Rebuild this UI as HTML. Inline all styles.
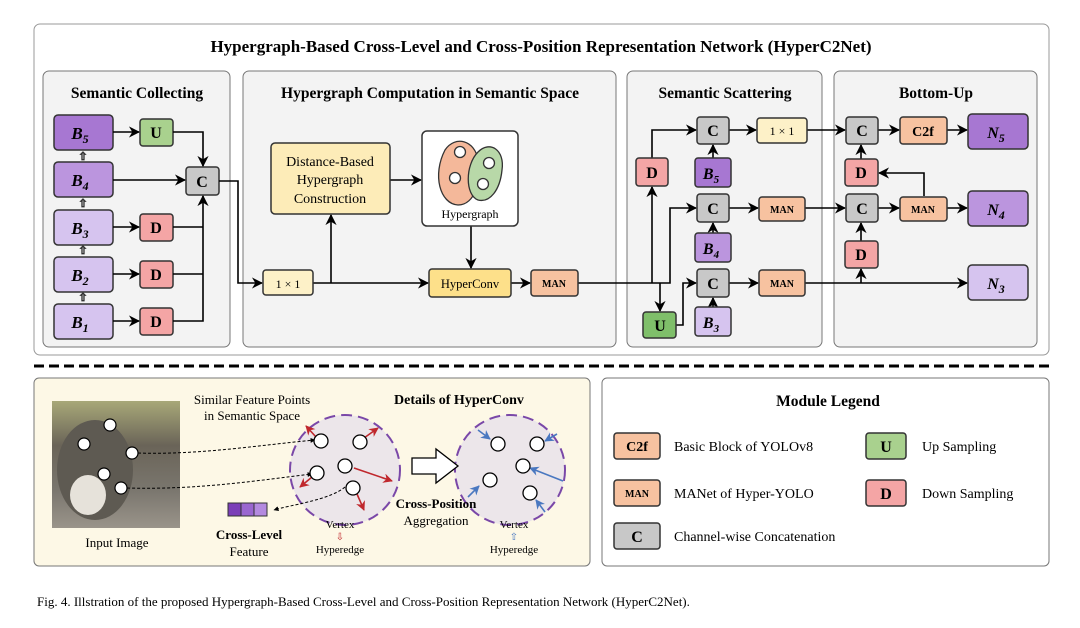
<!DOCTYPE html>
<html><head><meta charset="utf-8"><style>
body{margin:0;background:#fff}
svg{display:block;font-family:"Liberation Serif",serif}
</style></head><body>
<svg width="1080" height="628" viewBox="0 0 1080 628" xmlns="http://www.w3.org/2000/svg">
<defs>
<marker id="a" viewBox="0 0 10 10" refX="9" refY="5" markerWidth="7" markerHeight="7" orient="auto"><path d="M0,0 L10,5 L0,10 L3,5z" fill="#000"/></marker>
<marker id="r" viewBox="0 0 10 10" refX="9" refY="5" markerWidth="6" markerHeight="6" orient="auto"><path d="M0,0 L10,5 L0,10 L3,5z" fill="#c0282d"/></marker>
<marker id="b" viewBox="0 0 10 10" refX="9" refY="5" markerWidth="6" markerHeight="6" orient="auto"><path d="M0,0 L10,5 L0,10 L3,5z" fill="#4a78c0"/></marker>
<marker id="s" viewBox="0 0 10 10" refX="9" refY="5" markerWidth="5" markerHeight="5" orient="auto"><path d="M0,0 L10,5 L0,10z" fill="#000"/></marker>
<linearGradient id="cat" x1="0" y1="0" x2="0" y2="1"><stop offset="0" stop-color="#a8a878"/><stop offset="0.35" stop-color="#6a6458"/><stop offset="0.7" stop-color="#7a766e"/><stop offset="1" stop-color="#9a948a"/></linearGradient>
</defs>
<rect x="34" y="24" width="1015" height="331" rx="6" fill="#fff" stroke="#999"/>
<text x="541" y="52" font-size="17" font-weight="bold" text-anchor="middle">Hypergraph-Based Cross-Level and Cross-Position Representation Network (HyperC2Net)</text>
<g fill="#f3f3f3" stroke="#777">
<rect x="43" y="71" width="187" height="276" rx="6"/>
<rect x="243" y="71" width="373" height="276" rx="6"/>
<rect x="627" y="71" width="195" height="276" rx="6"/>
<rect x="834" y="71" width="203" height="276" rx="6"/>
</g>
<g font-size="15.5" font-weight="bold" text-anchor="middle">
<text x="137" y="98">Semantic Collecting</text>
<text x="430" y="98">Hypergraph Computation in Semantic Space</text>
<text x="725" y="98">Semantic Scattering</text>
<text x="936" y="98">Bottom-Up</text>
</g>
<g stroke="#333" stroke-width="1.5">
<rect x="54" y="115" width="59" height="35" rx="4" fill="#a777d2"/>
<rect x="54" y="162" width="59" height="35" rx="4" fill="#bb95de"/>
<rect x="54" y="210" width="59" height="35" rx="4" fill="#d6c4ef"/>
<rect x="54" y="257" width="59" height="35" rx="4" fill="#d6c4ef"/>
<rect x="54" y="304" width="59" height="35" rx="4" fill="#d6c4ef"/>
<rect x="140" y="119" width="33" height="27" rx="3" fill="#a9d18e"/>
<rect x="140" y="214" width="33" height="27" rx="3" fill="#f4a5a5"/>
<rect x="140" y="261" width="33" height="27" rx="3" fill="#f4a5a5"/>
<rect x="140" y="308" width="33" height="27" rx="3" fill="#f4a5a5"/>
<rect x="186" y="167" width="33" height="28" rx="3" fill="#c8c8c8"/>
</g>
<g font-size="17" font-weight="bold" font-style="italic" text-anchor="middle">
<text x="80" y="139">B<tspan font-size="12" dy="4">5</tspan></text>
<text x="80" y="186">B<tspan font-size="12" dy="4">4</tspan></text>
<text x="80" y="234">B<tspan font-size="12" dy="4">3</tspan></text>
<text x="80" y="281">B<tspan font-size="12" dy="4">2</tspan></text>
<text x="80" y="328">B<tspan font-size="12" dy="4">1</tspan></text>
</g>
<g font-size="16" font-weight="bold" text-anchor="middle">
<text x="156" y="138">U</text><text x="156" y="233">D</text><text x="156" y="280">D</text><text x="156" y="327">D</text><text x="202" y="187">C</text>
</g>
<g font-size="11" text-anchor="middle" fill="#fff" stroke="#333" stroke-width="0.8">
<text x="83" y="160">⇧</text><text x="83" y="207">⇧</text><text x="83" y="254">⇧</text><text x="83" y="301">⇧</text>
</g>
<g stroke="#000" stroke-width="1.6" fill="none">
<path d="M113 132H139" marker-end="url(#a)"/>
<path d="M113 227H139" marker-end="url(#a)"/>
<path d="M113 274H139" marker-end="url(#a)"/>
<path d="M113 321H139" marker-end="url(#a)"/>
<path d="M113 180H185" marker-end="url(#a)"/>
<path d="M173 132H203V166" marker-end="url(#a)"/>
<path d="M173 227H203M173 274H203M173 321H203V196" marker-end="url(#a)"/>
<path d="M219 181H238V283H262" marker-end="url(#a)"/>
<path d="M313 283H428" marker-end="url(#a)"/>
<path d="M331 283V215" marker-end="url(#a)"/>
<path d="M390 180H421" marker-end="url(#a)"/>
<path d="M471 226V268" marker-end="url(#a)"/>
<path d="M511 283H530" marker-end="url(#a)"/>
<path d="M578 283H670V208H696" marker-end="url(#a)"/>
<path d="M652 283V187" marker-end="url(#a)"/>
<path d="M652 158V130H696" marker-end="url(#a)"/>
<path d="M660 283V311" marker-end="url(#a)"/>
<path d="M676 325H683V283H696" marker-end="url(#a)"/>
<path d="M713 158V145" marker-end="url(#a)"/>
<path d="M713 233V223" marker-end="url(#a)"/>
<path d="M713 307V298" marker-end="url(#a)"/>
<path d="M729 130H756" marker-end="url(#a)"/>
<path d="M729 208H758" marker-end="url(#a)"/>
<path d="M729 283H758" marker-end="url(#a)"/>
<path d="M807 130H845" marker-end="url(#a)"/>
<path d="M805 208H845" marker-end="url(#a)"/>
<path d="M805 283H967" marker-end="url(#a)"/>
<path d="M861 283V269" marker-end="url(#a)"/>
<path d="M861 241V223" marker-end="url(#a)"/>
<path d="M861 159V145" marker-end="url(#a)"/>
<path d="M878 130H899" marker-end="url(#a)"/>
<path d="M947 130H967" marker-end="url(#a)"/>
<path d="M878 208H899" marker-end="url(#a)"/>
<path d="M947 208H967" marker-end="url(#a)"/>
<path d="M924 196V173H879" marker-end="url(#a)"/>
</g>
<g stroke="#333" stroke-width="1.5">
<rect x="271" y="143" width="119" height="71" rx="4" fill="#fdecb8"/>
<rect x="422" y="131" width="96" height="95" rx="5" fill="#fff"/>
<rect x="263" y="270" width="50" height="25" rx="3" fill="#fdf1c8"/>
<rect x="429" y="269" width="82" height="28" rx="3" fill="#fde08a"/>
<rect x="531" y="270" width="47" height="26" rx="3" fill="#f7c2a0"/>
<rect x="636" y="158" width="32" height="28" rx="3" fill="#f4a5a5"/>
<rect x="697" y="117" width="32" height="27" rx="3" fill="#c8c8c8"/>
<rect x="695" y="158" width="36" height="29" rx="3" fill="#a777d2"/>
<rect x="757" y="118" width="50" height="25" rx="3" fill="#fdf1c8"/>
<rect x="697" y="194" width="32" height="28" rx="3" fill="#c8c8c8"/>
<rect x="759" y="197" width="46" height="24" rx="3" fill="#f7c2a0"/>
<rect x="695" y="233" width="36" height="29" rx="3" fill="#bb95de"/>
<rect x="697" y="269" width="32" height="28" rx="3" fill="#c8c8c8"/>
<rect x="759" y="270" width="46" height="26" rx="3" fill="#f7c2a0"/>
<rect x="695" y="307" width="36" height="29" rx="3" fill="#d6c4ef"/>
<rect x="643" y="312" width="33" height="26" rx="3" fill="#7fbf6a"/>
<rect x="846" y="117" width="32" height="27" rx="3" fill="#c8c8c8"/>
<rect x="900" y="117" width="47" height="27" rx="3" fill="#f7c2a0"/>
<rect x="968" y="114" width="60" height="35" rx="4" fill="#a777d2"/>
<rect x="845" y="159" width="33" height="27" rx="3" fill="#f4a5a5"/>
<rect x="846" y="194" width="32" height="28" rx="3" fill="#c8c8c8"/>
<rect x="900" y="197" width="47" height="24" rx="3" fill="#f7c2a0"/>
<rect x="968" y="191" width="60" height="35" rx="4" fill="#bb95de"/>
<rect x="845" y="241" width="33" height="27" rx="3" fill="#f4a5a5"/>
<rect x="968" y="265" width="60" height="35" rx="4" fill="#d6c4ef"/>
</g>
<g font-size="14" text-anchor="middle">
<text x="330" y="166">Distance-Based</text><text x="330" y="184">Hypergraph</text><text x="330" y="203">Construction</text>
<text x="470" y="218" font-size="12">Hypergraph</text>
<text x="288" y="288" font-size="12">1 × 1</text>
<text x="470" y="288" font-size="12.5">HyperConv</text>
<text x="782" y="135" font-size="12">1 × 1</text>
</g>
<g font-size="10" font-weight="bold" text-anchor="middle">
<text x="554" y="287">MAN</text><text x="782" y="213">MAN</text><text x="782" y="287">MAN</text><text x="923" y="213">MAN</text>
</g>
<g font-size="16" font-weight="bold" text-anchor="middle">
<text x="652" y="178">D</text><text x="713" y="136">C</text><text x="713" y="214">C</text><text x="713" y="289">C</text><text x="660" y="331">U</text>
<text x="862" y="136">C</text><text x="862" y="214">C</text><text x="861" y="178">D</text><text x="861" y="260">D</text>
<text x="923" y="136" font-size="14">C2f</text>
</g>
<g font-size="16" font-weight="bold" font-style="italic" text-anchor="middle">
<text x="711" y="179">B<tspan font-size="11" dy="4">5</tspan></text>
<text x="711" y="254">B<tspan font-size="11" dy="4">4</tspan></text>
<text x="711" y="328">B<tspan font-size="11" dy="4">3</tspan></text>
<text x="996" y="138">N<tspan font-size="12" dy="4">5</tspan></text>
<text x="996" y="215">N<tspan font-size="12" dy="4">4</tspan></text>
<text x="996" y="289">N<tspan font-size="12" dy="4">3</tspan></text>
</g>
<!-- hypergraph icon -->
<g stroke="#333" stroke-width="1.3">
<path d="M445 150 C455 135 475 140 478 160 C482 180 475 205 458 205 C440 204 432 175 445 150Z" fill="#f4b89a"/>
<path d="M478 152 C490 140 505 150 502 170 C500 190 490 203 478 200 C465 195 465 165 478 152Z" fill="#b8d8a8"/>
<circle cx="460" cy="152" r="5.5" fill="#fff"/><circle cx="455" cy="178" r="5.5" fill="#fff"/><circle cx="489" cy="163" r="5.5" fill="#fff"/><circle cx="483" cy="184" r="5.5" fill="#fff"/>
</g>
<path d="M34 366H1049" stroke="#000" stroke-width="3" stroke-dasharray="10 5"/>
<!-- bottom left -->
<rect x="34" y="378" width="556" height="188" rx="5" fill="#fdf8e6" stroke="#777"/>
<rect x="52" y="401" width="128" height="127" fill="url(#cat)"/>
<ellipse cx="95" cy="470" rx="38" ry="50" fill="#5e5a52"/>
<ellipse cx="88" cy="495" rx="18" ry="20" fill="#e6e2da"/>
<g fill="#fff" stroke="#000" stroke-width="1.2">
<circle cx="110" cy="425" r="6"/><circle cx="84" cy="444" r="6"/><circle cx="132" cy="453" r="6"/><circle cx="104" cy="474" r="6"/><circle cx="121" cy="488" r="6"/>
</g>
<text x="117" y="547" font-size="13" text-anchor="middle">Input Image</text>
<text x="252" y="404" font-size="13" text-anchor="middle">Similar Feature Points</text>
<text x="252" y="420" font-size="13" text-anchor="middle">in Semantic Space</text>
<text x="459" y="404" font-size="14" font-weight="bold" text-anchor="middle">Details of HyperConv</text>
<circle cx="345" cy="470" r="55" fill="#ece6ea" stroke="#7a48a8" stroke-width="2" stroke-dasharray="11 6"/>
<circle cx="510" cy="470" r="55" fill="#ece6ea" stroke="#7a48a8" stroke-width="2" stroke-dasharray="11 6"/>
<g fill="none" stroke="#000" stroke-width="1" stroke-dasharray="3 2">
<path d="M138 453 C200 455 260 445 315 440" marker-end="url(#s)"/>
<path d="M127 488 C200 490 260 480 312 474" marker-end="url(#s)"/>
<path d="M345 487 C330 500 290 505 274 510" marker-end="url(#s)"/>
</g>
<g stroke="#c0282d" stroke-width="1.6" fill="none">
<path d="M316 437L306 426" marker-end="url(#r)"/>
<path d="M364 438L378 428" marker-end="url(#r)"/>
<path d="M354 468L392 481" marker-end="url(#r)"/>
<path d="M312 477L300 487" marker-end="url(#r)"/>
<path d="M357 494L364 510" marker-end="url(#r)"/>
</g>
<g fill="#fff" stroke="#000" stroke-width="1.3">
<circle cx="321" cy="441" r="7"/><circle cx="360" cy="442" r="7"/><circle cx="345" cy="466" r="7"/><circle cx="317" cy="473" r="7"/><circle cx="353" cy="488" r="7"/>
</g>
<g stroke="#4a78c0" stroke-width="1.6" fill="none">
<path d="M478 430L490 439" marker-end="url(#b)"/>
<path d="M557 434L545 441" marker-end="url(#b)"/>
<path d="M563 481L530 468" marker-end="url(#b)"/>
<path d="M468 497L479 486" marker-end="url(#b)"/>
<path d="M545 512L536 500" marker-end="url(#b)"/>
</g>
<g fill="#fff" stroke="#000" stroke-width="1.3">
<circle cx="498" cy="444" r="7"/><circle cx="537" cy="444" r="7"/><circle cx="523" cy="466" r="7"/><circle cx="490" cy="480" r="7"/><circle cx="530" cy="493" r="7"/>
</g>
<path d="M412 458H436V449L458 466L436 483V474H412Z" fill="#fff" stroke="#000" stroke-width="1.3"/>
<g fill="#8a4fc6" stroke="#333" stroke-width="1">
<rect x="228" y="503" width="13" height="13" fill="#7b3fb8"/><rect x="241" y="503" width="13" height="13" fill="#9a66d0"/><rect x="254" y="503" width="13" height="13" fill="#b48ae0"/>
</g>
<text x="249" y="539" font-size="13" font-weight="bold" text-anchor="middle">Cross-Level</text>
<text x="249" y="556" font-size="13" text-anchor="middle">Feature</text>
<text x="340" y="528" font-size="11" text-anchor="middle">Vertex</text>
<text x="340" y="540" font-size="10" fill="#c0282d" text-anchor="middle">⇩</text>
<text x="340" y="553" font-size="11" text-anchor="middle">Hyperedge</text>
<text x="436" y="508" font-size="13" font-weight="bold" text-anchor="middle">Cross-Position</text>
<text x="436" y="525" font-size="13" text-anchor="middle">Aggregation</text>
<text x="514" y="528" font-size="11" text-anchor="middle">Vertex</text>
<text x="514" y="540" font-size="10" fill="#4a78c0" text-anchor="middle">⇧</text>
<text x="514" y="553" font-size="11" text-anchor="middle">Hyperedge</text>
<!-- legend -->
<rect x="602" y="378" width="447" height="188" rx="5" fill="#fff" stroke="#777"/>
<text x="828" y="406" font-size="15.5" font-weight="bold" text-anchor="middle">Module Legend</text>
<g stroke="#333" stroke-width="1.5">
<rect x="614" y="433" width="46" height="26" rx="3" fill="#f7c2a0"/>
<rect x="614" y="480" width="46" height="26" rx="3" fill="#f7c2a0"/>
<rect x="614" y="523" width="46" height="26" rx="3" fill="#c8c8c8"/>
<rect x="866" y="433" width="40" height="26" rx="3" fill="#a9d18e"/>
<rect x="866" y="480" width="40" height="26" rx="3" fill="#f4a5a5"/>
</g>
<g font-weight="bold" text-anchor="middle">
<text x="637" y="451" font-size="14">C2f</text><text x="637" y="497" font-size="10">MAN</text><text x="637" y="542" font-size="16">C</text>
<text x="886" y="452" font-size="16">U</text><text x="886" y="499" font-size="16">D</text>
</g>
<g font-size="14">
<text x="674" y="451">Basic Block of YOLOv8</text>
<text x="674" y="498">MANet of Hyper-YOLO</text>
<text x="674" y="541">Channel-wise Concatenation</text>
<text x="922" y="451">Up Sampling</text>
<text x="922" y="498">Down Sampling</text>
</g>
<text x="37" y="606" font-size="13">Fig. 4.  Illstration of the proposed Hypergraph-Based Cross-Level and Cross-Position Representation Network (HyperC2Net).</text>
</svg>
</body></html>
